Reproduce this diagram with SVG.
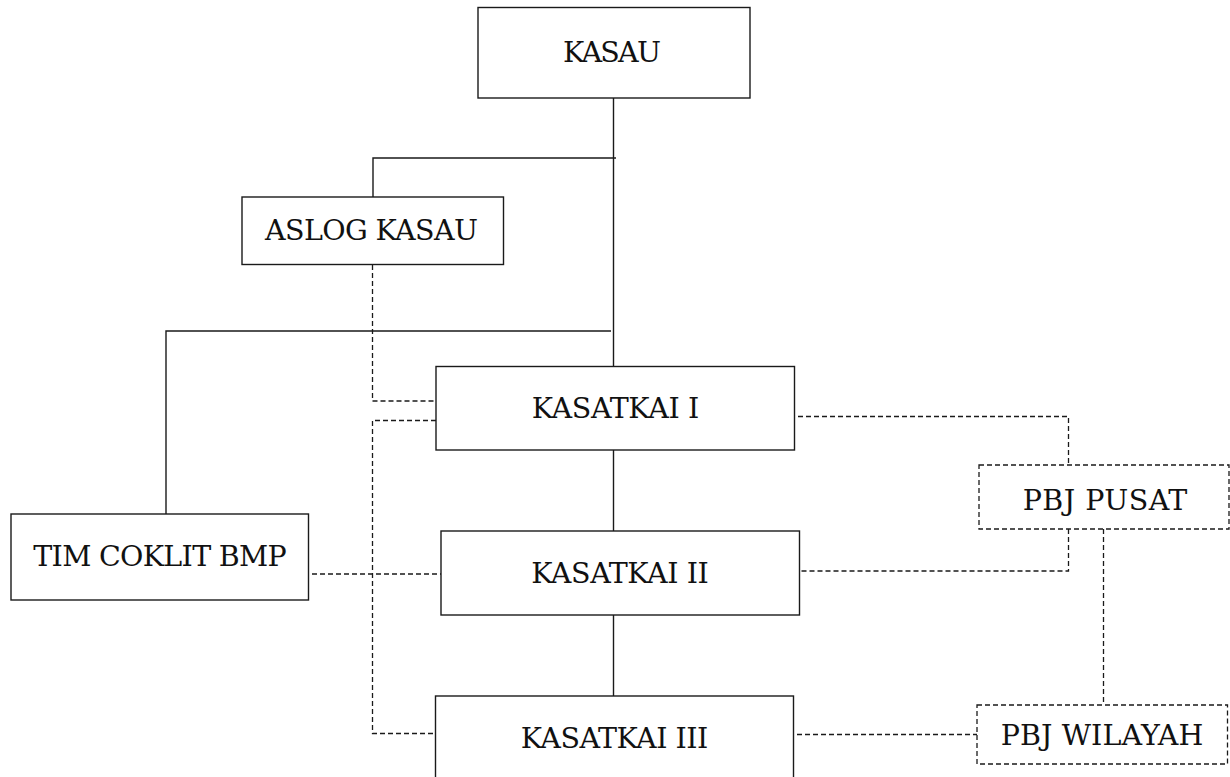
<svg xmlns="http://www.w3.org/2000/svg" width="1230" height="777" viewBox="0 0 1230 777">
<style>
.box{fill:#fff;stroke:#1a1a1a;stroke-width:1.4}
.dbox{fill:#fff;stroke:#1a1a1a;stroke-width:1.3;stroke-dasharray:5 3}
.ln{fill:none;stroke:#1a1a1a;stroke-width:1.4}
.dl{fill:none;stroke:#1a1a1a;stroke-width:1.3;stroke-dasharray:5 3}
text{font-family:"DejaVu Serif","Liberation Serif",serif;font-size:28.5px;fill:#111;text-anchor:middle}
</style>
<rect width="1230" height="777" fill="#fff"/>
<g id="connectors">
<line class="ln" x1="613.5" y1="98" x2="613.5" y2="366"/>
<polyline class="ln" points="616,158 373,158 373,197"/>
<polyline class="ln" points="611,331 166,331 166,514"/>
<line class="ln" x1="613.5" y1="450" x2="613.5" y2="531"/>
<line class="ln" x1="613.5" y1="615" x2="613.5" y2="696"/>
<polyline class="dl" points="372.5,265 372.5,401 436,401"/>
<polyline class="dl" points="436,420.5 372.5,420.5 372.5,733.5 436,733.5"/>
<line class="dl" x1="312" y1="574" x2="441" y2="574"/>
<polyline class="dl" points="798,416.5 1068.5,416.5 1068.5,465"/>
<polyline class="dl" points="1068.5,529 1068.5,571 800,571"/>
<line class="dl" x1="1103.5" y1="529" x2="1103.5" y2="705"/>
<line class="dl" x1="797" y1="734.5" x2="977" y2="734.5"/>
</g>
<g id="kasau">
<rect class="box" x="478" y="7.5" width="272" height="90.5"/>
<text x="612" y="62" textLength="98">KASAU</text>
</g>
<g id="aslog">
<rect class="box" x="242" y="197" width="261.5" height="67.5"/>
<text x="371.5" y="240" textLength="213">ASLOG KASAU</text>
</g>
<g id="kasatkai1">
<rect class="box" x="436" y="366.5" width="358.5" height="83.5"/>
<text x="615.5" y="418" textLength="167.6">KASATKAI I</text>
</g>
<g id="kasatkai2">
<rect class="box" x="441" y="531" width="358.5" height="84"/>
<text x="620" y="582.5" textLength="177.7">KASATKAI II</text>
</g>
<g id="kasatkai3">
<rect class="box" x="435.5" y="696" width="358" height="100"/>
<text x="614.5" y="748" textLength="187.6">KASATKAI III</text>
</g>
<g id="timcoklit">
<rect class="box" x="11" y="514" width="297.5" height="86"/>
<text x="160" y="566" textLength="253.4">TIM COKLIT BMP</text>
</g>
<g id="pbjpusat">
<rect class="dbox" x="979" y="465" width="250" height="64"/>
<text x="1105" y="509.5" textLength="164.6">PBJ PUSAT</text>
</g>
<g id="pbjwilayah">
<rect class="dbox" x="977" y="705" width="250.5" height="59"/>
<text x="1102" y="744.5" textLength="202.6">PBJ WILAYAH</text>
</g>
</svg>
